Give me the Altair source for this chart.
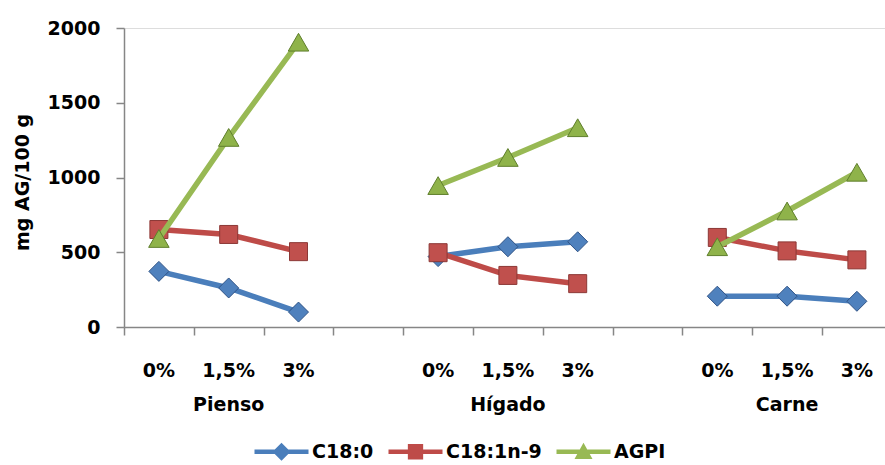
import altair as alt
import pandas as pd

# Ácidos grasos (mg AG/100 g) por matriz y nivel de inclusión
grupos = ["Pienso", "Hígado", "Carne"]
niveles = ["0%", "1,5%", "3%"]
series = ["C18:0", "C18:1n-9", "AGPI"]

c18_0 = [372, 261, 100, 471, 537, 570, 206, 206, 172]
c18_1n9 = [652, 619, 504, 497, 345, 290, 599, 509, 449]
agpi = [592, 1268, 1905, 946, 1134, 1333, 537, 776, 1035]

valores = {"C18:0": c18_0, "C18:1n-9": c18_1n9, "AGPI": agpi}

colores_linea = ["#4a7ebb", "#be4b48", "#98b954"]
colores_relleno = ["#4f81bd", "#c0504d", "#8fb34a"]
colores_borde = ["#2f5386", "#8c3836", "#5f7f2c"]
formas = ["diamond", "square", "triangle-up"]
tamanos = [400, 324, 420]

FUENTE = "DejaVu Sans"
TAM = 19

# Each group takes three slots followed by an empty slot
filas = []
for s in series:
    for g_i, g in enumerate(grupos):
        for n_i, n in enumerate(niveles):
            filas.append({
                "serie": s,
                "grupo": g,
                "nivel": n,
                "pos": g_i * 4 + n_i + 0.5,
                "valor": valores[s][g_i * 3 + n_i],
            })
df = pd.DataFrame(filas)

etiquetas = pd.DataFrame([
    {"nivel": n, "pos": g_i * 4 + n_i + 0.5}
    for g_i in range(len(grupos)) for n_i, n in enumerate(niveles)
])
etiquetas_grupo = pd.DataFrame([
    {"grupo": g, "pos": g_i * 4 + 1.5} for g_i, g in enumerate(grupos)
])

ANCHO = 761
PASO = 69.8
x_scale = alt.Scale(domain=[0, ANCHO / PASO], nice=False, zero=False)
y_scale = alt.Scale(domain=[0, 2000], nice=False)

x_enc = alt.X(
    "pos:Q", scale=x_scale,
    axis=alt.Axis(values=list(range(11)), labels=False, title=None, tickSize=8,
                  domainColor="#868686", tickColor="#868686", domainWidth=1.5,
                  tickWidth=1.5, grid=False),
)
y_enc = alt.Y(
    "valor:Q", scale=y_scale,
    axis=alt.Axis(values=[0, 500, 1000, 1500, 2000], format="d",
                  title="mg AG/100 g",
                  tickSize=8, labelPadding=16, grid=False,
                  domainColor="#868686", tickColor="#868686", domainWidth=1.5,
                  tickWidth=1.5, labelFont=FUENTE, labelFontSize=TAM,
                  labelFontWeight="bold", labelColor="#000000",
                  titleFont=FUENTE, titleFontSize=19, titleFontWeight="bold",
                  titleColor="#000000", titleX=-102, titleY=154,
                  titleBaseline="middle", titleAlign="center"),
)

capas = []
for i, s in enumerate(series):
    base = alt.Chart(df).transform_filter(alt.datum.serie == s)
    capas.append(
        base.mark_line(color=colores_linea[i], strokeWidth=5.5).encode(
            x=x_enc, y=y_enc, detail="grupo:N", order="pos:Q"
        )
    )
    capas.append(
        base.mark_point(
            shape=formas[i], filled=True, size=tamanos[i], opacity=1,
            fill=colores_relleno[i], stroke=colores_borde[i], strokeWidth=1,
        ).encode(x=x_enc, y=y_enc)
    )

texto_nivel = alt.Chart(etiquetas).mark_text(
    font=FUENTE, fontSize=TAM, fontWeight="bold", color="#000000",
    align="center", baseline="middle",
).encode(x=alt.X("pos:Q", scale=x_scale), y=alt.value(343), text="nivel:N")

texto_grupo = alt.Chart(etiquetas_grupo).mark_text(
    font=FUENTE, fontSize=TAM, fontWeight="bold", color="#000000",
    align="center", baseline="middle",
).encode(x=alt.X("pos:Q", scale=x_scale), y=alt.value(377), text="grupo:N")

# Legend symbols: a horizontal stroke with the series marker on top
rutas_leyenda = [
    "M-3,-0.26H3V0.26H-3Z M0,-1L1,0L0,1L-1,0Z",
    "M-3,-0.26H3V0.26H-3Z M-0.85,-0.85H0.85V0.85H-0.85Z",
    "M-3,-0.26H3V0.26H-3Z M0,-1L1,0.8L-1,0.8Z",
]
leyenda_cfg = alt.Legend(
    title=None, orient="none", direction="horizontal",
    legendX=148, legendY=414, symbolSize=324, symbolOpacity=1,
    symbolStrokeWidth=0, labelFont=FUENTE, labelFontSize=TAM,
    labelFontWeight="bold", labelColor="#000000", labelOffset=21,
    columnPadding=14,
)
leyenda = alt.Chart(pd.DataFrame({"serie": series})).mark_point(
    filled=True, opacity=0
).encode(
    x=alt.value(0), y=alt.value(0),
    color=alt.Color("serie:N", scale=alt.Scale(domain=series, range=colores_linea),
                    legend=leyenda_cfg),
    shape=alt.Shape("serie:N", scale=alt.Scale(domain=series, range=rutas_leyenda),
                    legend=leyenda_cfg),
)

chart = alt.layer(*capas, texto_nivel, texto_grupo, leyenda).properties(
    width=ANCHO, height=299,
    autosize=alt.AutoSizeParams(type="none"),
    padding={"left": 124, "top": 28, "right": 0, "bottom": 138},
).configure_view(stroke=None).configure(background="#ffffff")

chart.save("out.html", embed_options={"renderer": "svg", "actions": False})
